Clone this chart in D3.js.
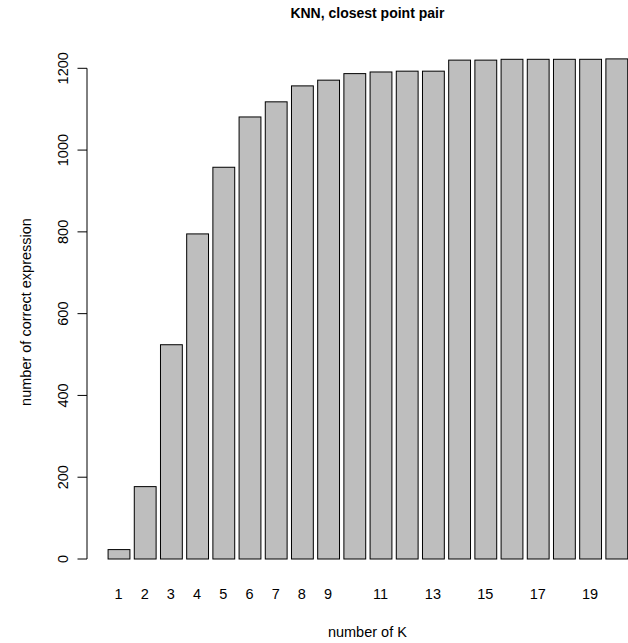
<!DOCTYPE html>
<html>
<head>
<meta charset="utf-8">
<script src="https://cdnjs.cloudflare.com/ajax/libs/d3/7.8.5/d3.min.js"></script>
<style>
  body { margin: 0; background: #fff; }
  text { font-family: "Liberation Sans", Arial, Helvetica, sans-serif; fill: #000; }
</style>
</head>
<body>
<svg id="chart" width="628" height="643"></svg>
<script>
// number of neighbours K
var kValues = [1, 2, 3, 4, 5, 6, 7, 8, 9, 10, 11, 12, 13, 14, 15, 16, 17, 18, 19, 20];
// number of correct expressions for each K
var correctCounts = [23, 177, 524, 795, 958, 1081, 1118, 1157, 1171, 1187,
                     1191, 1193, 1193, 1220, 1220, 1222, 1222, 1222, 1222, 1223];
// x labels R kept after dropping the overlapping ones
var xTickLabels = [1, 2, 3, 4, 5, 6, 7, 8, 9, 11, 13, 15, 17, 19];
var yTicks = [0, 200, 400, 600, 800, 1000, 1200];

var titleText = "KNN, closest point pair";
var xTitle = "number of K";
var yTitle = "number of correct expression";

var svg = d3.select("#chart");

// R barplot: width 1, space 0.2 -> step 26.2px here
var x = d3.scaleBand()
  .domain(kValues)
  .range([105.4, 629.4])
  .paddingInner(1 / 6)
  .paddingOuter(1 / 12);

var y = d3.scaleLinear()
  .domain([0, 1200])
  .range([559, 68.3]);

var plotBottom = 579;
var axisX = 87;
var lineH = 19;

svg.selectAll("rect.bar")
  .data(correctCounts)
  .enter()
  .append("rect")
  .attr("class", "bar")
  .attr("x", function (d, i) { return x(kValues[i]) + 0.5; })
  .attr("y", function (d) { return y(d); })
  .attr("width", x.bandwidth())
  .attr("height", function (d) { return y(0) - y(d); })
  .style("fill", "#bebebe")
  .style("stroke", "#000")
  .style("stroke-width", 1);

// y axis, drawn the R way: line between first and last tick, labels rotated
var yAxis = svg.append("g");
yAxis.append("line")
  .attr("x1", axisX).attr("x2", axisX)
  .attr("y1", y(0)).attr("y2", y(1200))
  .style("stroke", "#000");
yAxis.selectAll("line.tick")
  .data(yTicks)
  .enter()
  .append("line")
  .attr("class", "tick")
  .attr("x1", axisX - 9.5).attr("x2", axisX)
  .attr("y1", function (d) { return y(d); })
  .attr("y2", function (d) { return y(d); })
  .style("stroke", "#000");
yAxis.selectAll("text")
  .data(yTicks)
  .enter()
  .append("text")
  .attr("transform", function (d) {
    return "translate(" + (axisX - lineH) + "," + y(d) + ") rotate(-90)";
  })
  .attr("text-anchor", "middle")
  .style("font-size", "14.5px")
  .text(function (d) { return d; });

// bar names under the bars
svg.selectAll("text.xlab")
  .data(xTickLabels)
  .enter()
  .append("text")
  .attr("class", "xlab")
  .attr("x", function (d) { return x(d) + x.bandwidth() / 2; })
  .attr("y", plotBottom + lineH + 1)
  .attr("text-anchor", "middle")
  .style("font-size", "14.5px")
  .text(function (d) { return d; });

svg.append("text")
  .attr("x", 367.4)
  .attr("y", 18)
  .attr("text-anchor", "middle")
  .style("font-size", "14px")
  .style("font-weight", "bold")
  .text(titleText);

svg.append("text")
  .attr("x", 367.4)
  .attr("y", 637)
  .attr("text-anchor", "middle")
  .style("font-size", "14.5px")
  .text(xTitle);

svg.append("text")
  .attr("transform", "translate(" + (axisX - 3 * lineH + 1) + "," + 312 + ") rotate(-90)")
  .attr("text-anchor", "middle")
  .style("font-size", "14.5px")
  .text(yTitle);
</script>
</body>
</html>
